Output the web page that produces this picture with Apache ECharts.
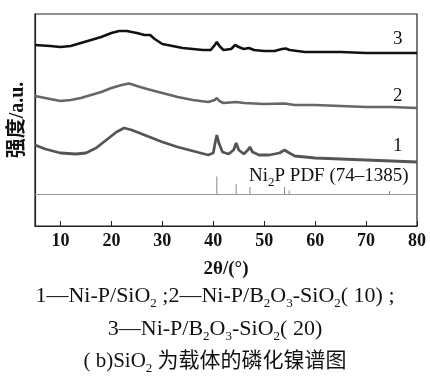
<!DOCTYPE html>
<html>
<head>
<meta charset="utf-8">
<script src="https://cdn.jsdelivr.net/npm/echarts@6/dist/echarts.min.js"></script>
<style>
  html, body { margin: 0; padding: 0; background: #fff; }
  #chart { width: 430px; height: 383px; }
</style>
</head>
<body>
<div id="chart"></div>
<script>
// XRD 曲线 (2θ, 强度 a.u.)
var curve3 = [[5,181],[8,180],[10,179],[12,180],[14,183],[16,186],[18,189],[20,193],[21.5,195],[23,195],[25,193],[26.5,191],[27.6,191],[28.5,187],[30,182],[32,180],[34,178],[36,177],[38,176],[39.5,176],[40.3,181],[40.7,184],[41.2,180],[42,176],[43.5,177],[44.3,181],[44.6,183],[45,179],[46,177],[47,178],[48,176],[50,175],[52,175],[53.5,177],[54.2,177.5],[55,176],[58,174],[60,174],[65,174],[70,173],[75,173],[80,173]];
var curve2 = [[5,130],[8,127],[10,125],[12,126],[14,128],[16,131],[18,134],[20,138],[22,141],[23.5,142.5],[25,140],[27,137],[30,133],[33,129],[36,126],[39,124],[40.3,126],[40.7,128],[41.2,125],[42,123],[44.5,124],[46,123],[50,122],[54,122.5],[56,121],[60,121],[65,120],[70,119],[75,119],[80,118]];
var curve1 = [[5,81],[7,77],[10,73],[13,72],[15,73],[17,78],[19,86],[21,94],[22.5,98],[24,96],[26,92],[28,88],[30,84],[33,79],[36,75],[39,71],[40,73],[40.4,84],[40.7,91],[41.1,83],[41.8,74],[43,72],[44,76],[44.5,83],[45,76],[46,72],[46.8,76],[47.2,79],[47.7,74],[49,71],[51,71],[53,73],[54,76],[54.6,74],[56,70],[58,69],[60,68],[65,67],[70,66],[75,65],[80,64]];
// Ni2P PDF (74-1385) 标准线
var pdfPos = [40.7, 44.5, 47.2, 54.0, 54.9, 74.6];
var pdfHeight = [17.5, 10, 7, 7, 3.5, 3];
var pdfBase = 32;
var xTicks = [10, 20, 30, 40, 50, 60, 70, 80];

var chart = echarts.init(document.getElementById('chart'));
var serif = '"Liberation Serif", "DejaVu Serif", serif';
var cjk = '"Liberation Serif", "Noto Sans CJK SC", serif';
var subStyle = { fontSize: 13, fontFamily: serif, verticalAlign: 'bottom', lineHeight: 13, padding: [0, 0, -3, 0] };

var option = {
    animation: false,
    grid: { left: 32, right: 13, top: 14, bottom: 157, show: true, borderColor: '#222', borderWidth: 1.2 },
    xAxis: {
        type: 'value', min: 5, max: 80,
        name: '2θ/(°)', nameLocation: 'middle', nameGap: 34,
        nameTextStyle: { fontFamily: serif, fontWeight: 'bold', fontSize: 19, color: '#111' },
        axisLine: { lineStyle: { color: '#222', width: 1.2 } },
        axisTick: { inside: true, length: 5, lineStyle: { color: '#222' }, customValues: xTicks },
        splitLine: { show: false },
        axisLabel: { fontFamily: serif, fontWeight: 'bold', fontSize: 18, color: '#111', margin: 6,
            customValues: xTicks }
    },
    yAxis: {
        type: 'value', min: 0, max: 212,
        name: '强度/a.u.', nameLocation: 'middle', nameGap: 7,
        nameTextStyle: { fontFamily: cjk, fontWeight: 'bold', fontSize: 20, color: '#111' },
        axisLine: { show: true, lineStyle: { color: '#222', width: 1.2 } },
        axisTick: { show: false }, axisLabel: { show: false }, splitLine: { show: false }
    },
    series: [
        { type: 'line', data: curve1, showSymbol: false, lineStyle: { color: '#555', width: 2.8 } },
        { type: 'line', data: curve2, showSymbol: false, lineStyle: { color: '#666', width: 2.6 } },
        { type: 'line', data: curve3, showSymbol: false, lineStyle: { color: '#111', width: 2.6 } },
        {
            type: 'custom',
            data: pdfPos.map(function (x, i) { return [x, pdfHeight[i]]; }),
            renderItem: function (params, api) {
                var p0 = api.coord([api.value(0), pdfBase]);
                var p1 = api.coord([api.value(0), pdfBase + api.value(1)]);
                return { type: 'line', shape: { x1: p0[0], y1: p0[1], x2: p1[0], y2: p1[1] },
                    style: { stroke: '#888', lineWidth: 1 } };
            },
            markLine: { silent: true, symbol: 'none', label: { show: false },
                lineStyle: { color: '#999', width: 1.2, type: 'solid' }, data: [{ yAxis: pdfBase }] }
        }
    ],
    graphic: [
        { type: 'text', left: 393, top: 30, style: { text: '3', font: '19px ' + serif, fill: '#111' } },
        { type: 'text', left: 393, top: 87, style: { text: '2', font: '19px ' + serif, fill: '#111' } },
        { type: 'text', left: 393, top: 137, style: { text: '1', font: '19px ' + serif, fill: '#111' } },
        { type: 'text', left: 249, top: 166, style: {
            text: 'Ni{s|2}P PDF (74–1385)', fontSize: 19, fontFamily: serif, fill: '#111', lineHeight: 20,
            rich: { s: subStyle } } },
        { type: 'text', left: 'center', top: 285, style: {
            text: '1—Ni-P/SiO{s|2} ;2—Ni-P/B{s|2}O{s|3}-SiO{s|2}( 10) ;', fontSize: 22, fontFamily: serif, fill: '#111', lineHeight: 22,
            rich: { s: subStyle } } },
        { type: 'text', left: 'center', top: 318, style: {
            text: '3—Ni-P/B{s|2}O{s|3}-SiO{s|2}( 20)', fontSize: 22, fontFamily: serif, fill: '#111', lineHeight: 22,
            rich: { s: subStyle } } },
        { type: 'text', left: 'center', top: 350, style: {
            text: '( b)SiO{s|2} 为载体的磷化镍谱图', fontSize: 21, fontFamily: cjk, fill: '#111', lineHeight: 22,
            rich: { s: subStyle } } }
    ]
};
chart.setOption(option);
</script>
</body>
</html>
